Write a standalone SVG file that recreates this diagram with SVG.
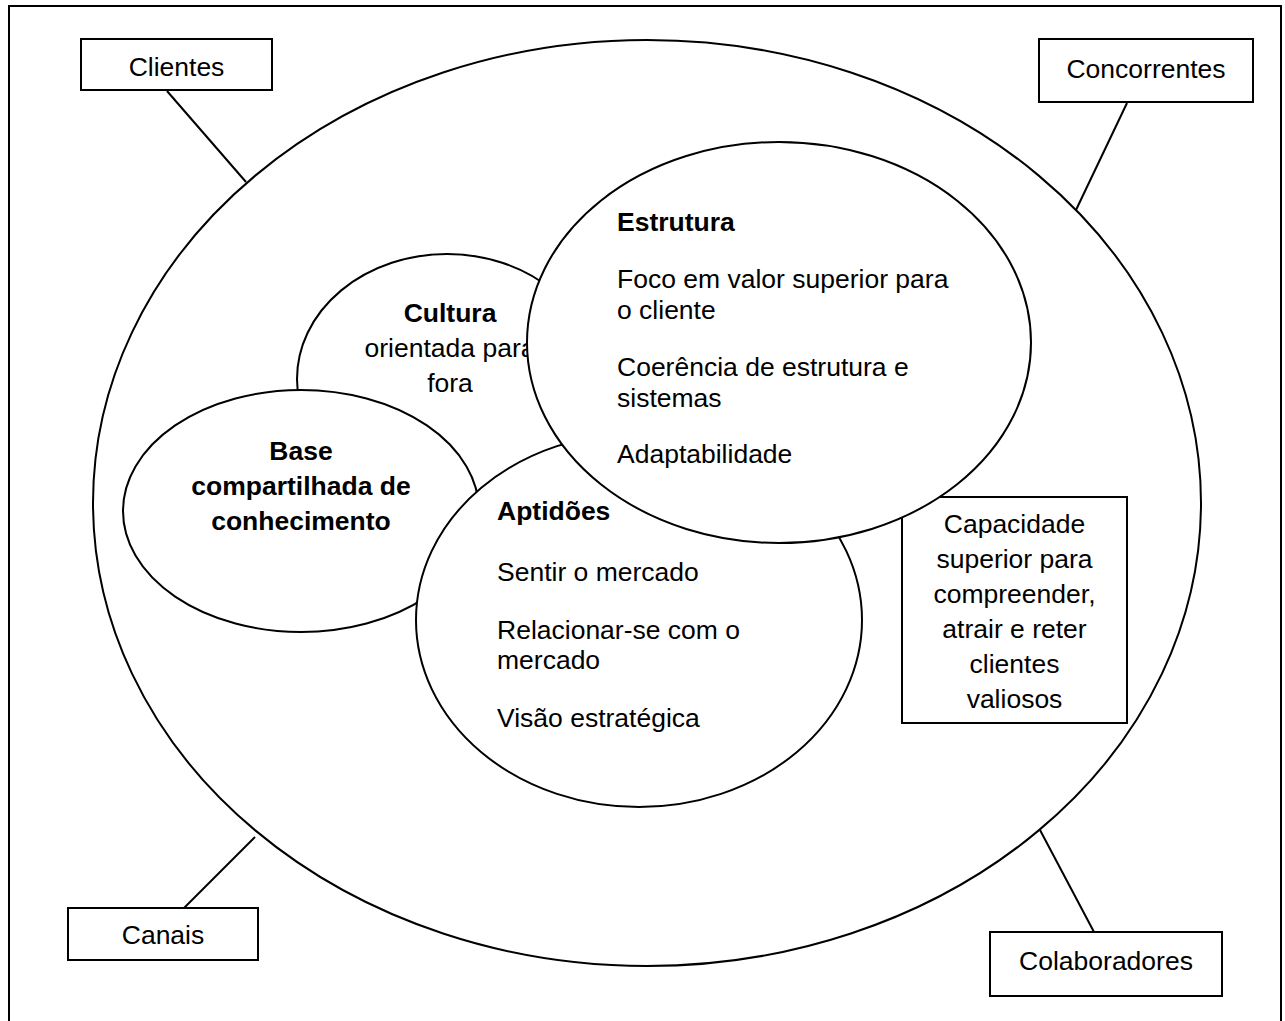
<svg xmlns="http://www.w3.org/2000/svg" width="1285" height="1021" viewBox="0 0 1285 1021">
<style>
.s{fill:#fff;stroke:#000;stroke-width:2}
.l{stroke:#000;stroke-width:2;fill:none}
text{font-family:"Liberation Sans",Arial,sans-serif;font-size:26.5px;fill:#000}
.b{font-weight:bold}
.c{text-anchor:middle}
</style>
<rect x="0" y="0" width="1285" height="1021" fill="#fff"/>
<rect id="frame" x="9" y="6" width="1272" height="1030" class="l"/>
<g id="connectors">
<line x1="167" y1="91" x2="246" y2="182" class="l"/>
<line x1="1127" y1="103" x2="1076" y2="210" class="l"/>
<line x1="184" y1="908" x2="255" y2="837" class="l"/>
<line x1="1094" y1="932" x2="1040" y2="830" class="l"/>
</g>
<g id="clientes"><rect x="81" y="39" width="191" height="51" class="s"/><text x="176.5" y="76" class="c">Clientes</text></g>
<g id="concorrentes"><rect x="1039" y="39" width="214" height="63" class="s"/><text x="1146" y="78" class="c">Concorrentes</text></g>
<g id="canais"><rect x="68" y="908" width="190" height="52" class="s"/><text x="163" y="944" class="c">Canais</text></g>
<g id="colaboradores"><rect x="990" y="932" width="232" height="64" class="s"/><text x="1106" y="970" class="c">Colaboradores</text></g>
<g id="organizacao"><ellipse cx="647" cy="503" rx="554" ry="463" class="s"/></g>
<g id="cultura"><ellipse cx="447" cy="379" rx="150" ry="125" class="s"/>
<text x="450" y="322" class="c b">Cultura</text>
<text x="450" y="357" class="c">orientada para</text>
<text x="450" y="392" class="c">fora</text></g>
<g id="base"><ellipse cx="301" cy="511" rx="178" ry="121" class="s"/>
<text x="301" y="460" class="c b">Base</text>
<text x="301" y="495" class="c b">compartilhada de</text>
<text x="301" y="530" class="c b">conhecimento</text></g>
<g id="aptidoes"><ellipse cx="639" cy="620" rx="223" ry="187" class="s"/>
<text x="497" y="520" class="b">Aptidões</text>
<text x="497" y="581">Sentir o mercado</text>
<text x="497" y="639">Relacionar-se com o</text>
<text x="497" y="669">mercado</text>
<text x="497" y="727">Visão estratégica</text></g>
<g id="capacidade"><rect x="902" y="497" width="225" height="226" class="s"/>
<text x="1014.5" y="533" class="c">Capacidade</text>
<text x="1014.5" y="568" class="c">superior para</text>
<text x="1014.5" y="603" class="c">compreender,</text>
<text x="1014.5" y="638" class="c">atrair e reter</text>
<text x="1014.5" y="673" class="c">clientes</text>
<text x="1014.5" y="708" class="c">valiosos</text></g>
<g id="estrutura"><ellipse cx="779" cy="342.5" rx="252" ry="200.5" class="s"/>
<text x="617" y="231" class="b">Estrutura</text>
<text x="617" y="288">Foco em valor superior para</text>
<text x="617" y="319">o cliente</text>
<text x="617" y="376">Coerência de estrutura e</text>
<text x="617" y="407">sistemas</text>
<text x="617" y="463">Adaptabilidade</text></g>
</svg>
